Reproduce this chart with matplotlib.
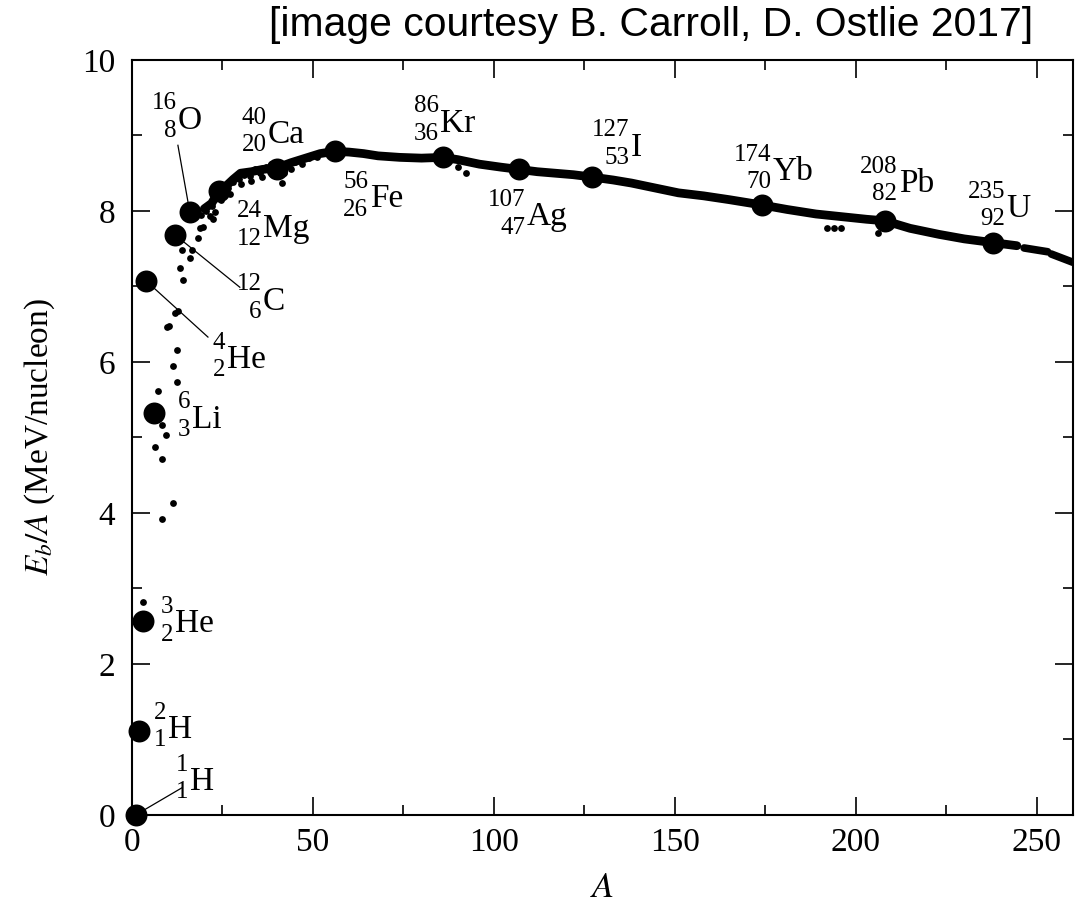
import matplotlib
matplotlib.use("Agg")
from matplotlib import pyplot as plt

#   Labelled nuclides (big dots)
big_A = [1, 2, 3, 4, 6, 12, 16, 24, 40, 56, 86, 107, 127, 174, 208, 238]
big_E = [0.0, 1.11, 2.57, 7.07, 5.33, 7.68, 7.98, 8.26, 8.55, 8.79, 8.71, 8.55, 8.45, 8.08, 7.87, 7.58]

#   Scattered light nuclides (small dots)
small_A = [3.0, 8.4, 11.4, 8.4, 6.3, 9.4, 8.2, 7.2, 12.4, 11.4, 12.4, 9.6, 10.2, 11.8, 12.8,
           13.3, 14.2, 13.8, 16.0, 16.5, 18.3, 18.8, 19.7, 20.5, 21.5, 22.5, 23.0, 22.0,
           25.0, 26.5, 28.0, 29.5, 31.0, 32.5, 34.0, 35.5, 37.0, 38.5, 39.0, 41.4, 43.0,
           45.0, 47.0, 49.0, 51.0, 90.0, 92.3, 192.0, 194.0, 196.0, 206.0,
           19.0, 21.0, 24.5, 27.0, 30.0, 33.0, 36.0, 42.0, 44.0]
small_E = [2.82, 3.92, 4.13, 4.72, 4.88, 5.03, 5.16, 5.62, 5.73, 5.95, 6.16, 6.46, 6.48, 6.65, 6.68,
           7.24, 7.09, 7.48, 7.38, 7.48, 7.64, 7.77, 7.79, 8.00, 7.94, 7.90, 7.98, 8.06,
           8.20, 8.30, 8.38, 8.42, 8.48, 8.46, 8.55, 8.50, 8.58, 8.62, 8.48, 8.37, 8.60,
           8.65, 8.62, 8.70, 8.72, 8.58, 8.50, 7.77, 7.77, 7.78, 7.71,
           7.95, 8.08, 8.14, 8.22, 8.36, 8.40, 8.45, 8.50, 8.55]

#   Dense band of stable nuclides
band_A = [20, 22, 24, 26, 28, 30, 33, 36, 40, 44, 48, 52, 56, 60, 64, 68, 74, 80, 86, 90, 96,
          102, 107, 112, 117, 122, 127, 133, 138, 145, 151, 158, 165, 174, 181, 189, 197, 203,
          208, 215, 223, 230, 238, 244.5]
band_E = [8.03, 8.10, 8.26, 8.33, 8.42, 8.50, 8.52, 8.55, 8.57, 8.64, 8.70, 8.76, 8.79, 8.78,
          8.76, 8.73, 8.71, 8.70, 8.71, 8.68, 8.62, 8.58, 8.55, 8.52, 8.50, 8.48, 8.45, 8.41,
          8.37, 8.30, 8.24, 8.20, 8.15, 8.08, 8.02, 7.96, 7.92, 7.89, 7.87, 7.77, 7.69, 7.63,
          7.58, 7.54]
tail1_A = [246.5, 253]
tail1_E = [7.51, 7.46]
tail2_A = [254, 260]
tail2_E = [7.43, 7.32]

#   Labels: (mass, Z, symbol, A, E) of the symbol's lower-left corner
labels = [
    ("1", "1", "H", 16.0, 0.33),
    ("2", "1", "H", 10.0, 1.02),
    ("3", "2", "He", 11.9, 2.42),
    ("6", "3", "Li", 16.6, 5.13),
    ("4", "2", "He", 26.2, 5.92),
    ("12", "6", "C", 36.2, 6.69),
    ("16", "8", "O", 12.7, 9.09),
    ("24", "12", "Mg", 36.2, 7.66),
    ("40", "20", "Ca", 37.6, 8.90),
    ("56", "26", "Fe", 65.7, 8.05),
    ("86", "36", "Kr", 85.1, 9.05),
    ("107", "47", "Ag", 109.1, 7.81),
    ("127", "53", "I", 137.8, 8.73),
    ("174", "70", "Yb", 177.1, 8.41),
    ("208", "82", "Pb", 211.9, 8.25),
    ("235", "92", "U", 241.7, 7.92),
]

#   Leader lines from dot to label
leaders = [
    ((1, 13.8), (0.0, 0.36)),
    ((4, 21.0), (7.07, 6.33)),
    ((12, 29.8), (7.68, 6.99)),
    ((16, 12.7), (7.98, 8.87)),
]

plt.rcParams['font.family'] = ['Liberation Serif', 'DejaVu Serif']
plt.rcParams['mathtext.fontset'] = 'stix'

fig = plt.figure(figsize=(10.86, 9.10), dpi=100)
ax = fig.add_axes([0.1215, 0.1044, 0.8665, 0.8297])

#   Leaders under the dots
for xs, ys in leaders:
    ax.plot(xs, ys, color='black', linewidth=0.9, zorder=1)

ax.plot(band_A, band_E, color='black', linewidth=6.3, solid_capstyle='round', zorder=2)
ax.plot(tail1_A, tail1_E, color='black', linewidth=5.5, solid_capstyle='round', zorder=2)
ax.plot(tail2_A, tail2_E, color='black', linewidth=5.5, solid_capstyle='round', zorder=2)
ax.scatter(small_A, small_E, s=24, color='black', linewidths=0, zorder=3, clip_on=False)
ax.scatter(big_A, big_E, s=250, color='black', linewidths=0, zorder=4, clip_on=False)

#   Nuclide labels, numbers right-aligned before the symbol
for mass, z, sym, a, e in labels:
    ax.annotate(sym, (a, e), xytext=(0, 0), textcoords='offset points',
                ha='left', va='baseline', fontsize=24)
    ax.annotate(mass, (a, e), xytext=(-1, 14), textcoords='offset points',
                ha='right', va='baseline', fontsize=18)
    ax.annotate(z, (a, e), xytext=(-1, -6), textcoords='offset points',
                ha='right', va='baseline', fontsize=18)

ax.set_xlim(0, 260)
ax.set_ylim(0, 10)
ax.set_xticks([0, 50, 100, 150, 200, 250])
ax.set_xticks([25, 75, 125, 175, 225], minor=True)
ax.set_yticks([0, 2, 4, 6, 8, 10])
ax.set_yticks([1, 3, 5, 7, 9], minor=True)
ax.tick_params(which='both', direction='in', top=True, right=True, width=1.2,
               labelsize=24, colors='black')
ax.tick_params(which='major', length=13)
ax.tick_params(which='minor', length=7)
ax.tick_params(axis='x', pad=9)
ax.tick_params(axis='y', pad=12)
for sp in ax.spines.values():
    sp.set_linewidth(1.5)

ax.set_xlabel(r'$A$', fontsize=26, labelpad=10)
ax.set_ylabel(r'$E_b/A$ (MeV/nucleon)', fontsize=24, labelpad=18)

fig.text(0.951, 0.993, "[image courtesy B. Carroll, D. Ostlie 2017]",
         ha='right', va='top', fontsize=29.4, family=['Liberation Sans', 'DejaVu Sans'])

fig.savefig("out.png", dpi=100)
